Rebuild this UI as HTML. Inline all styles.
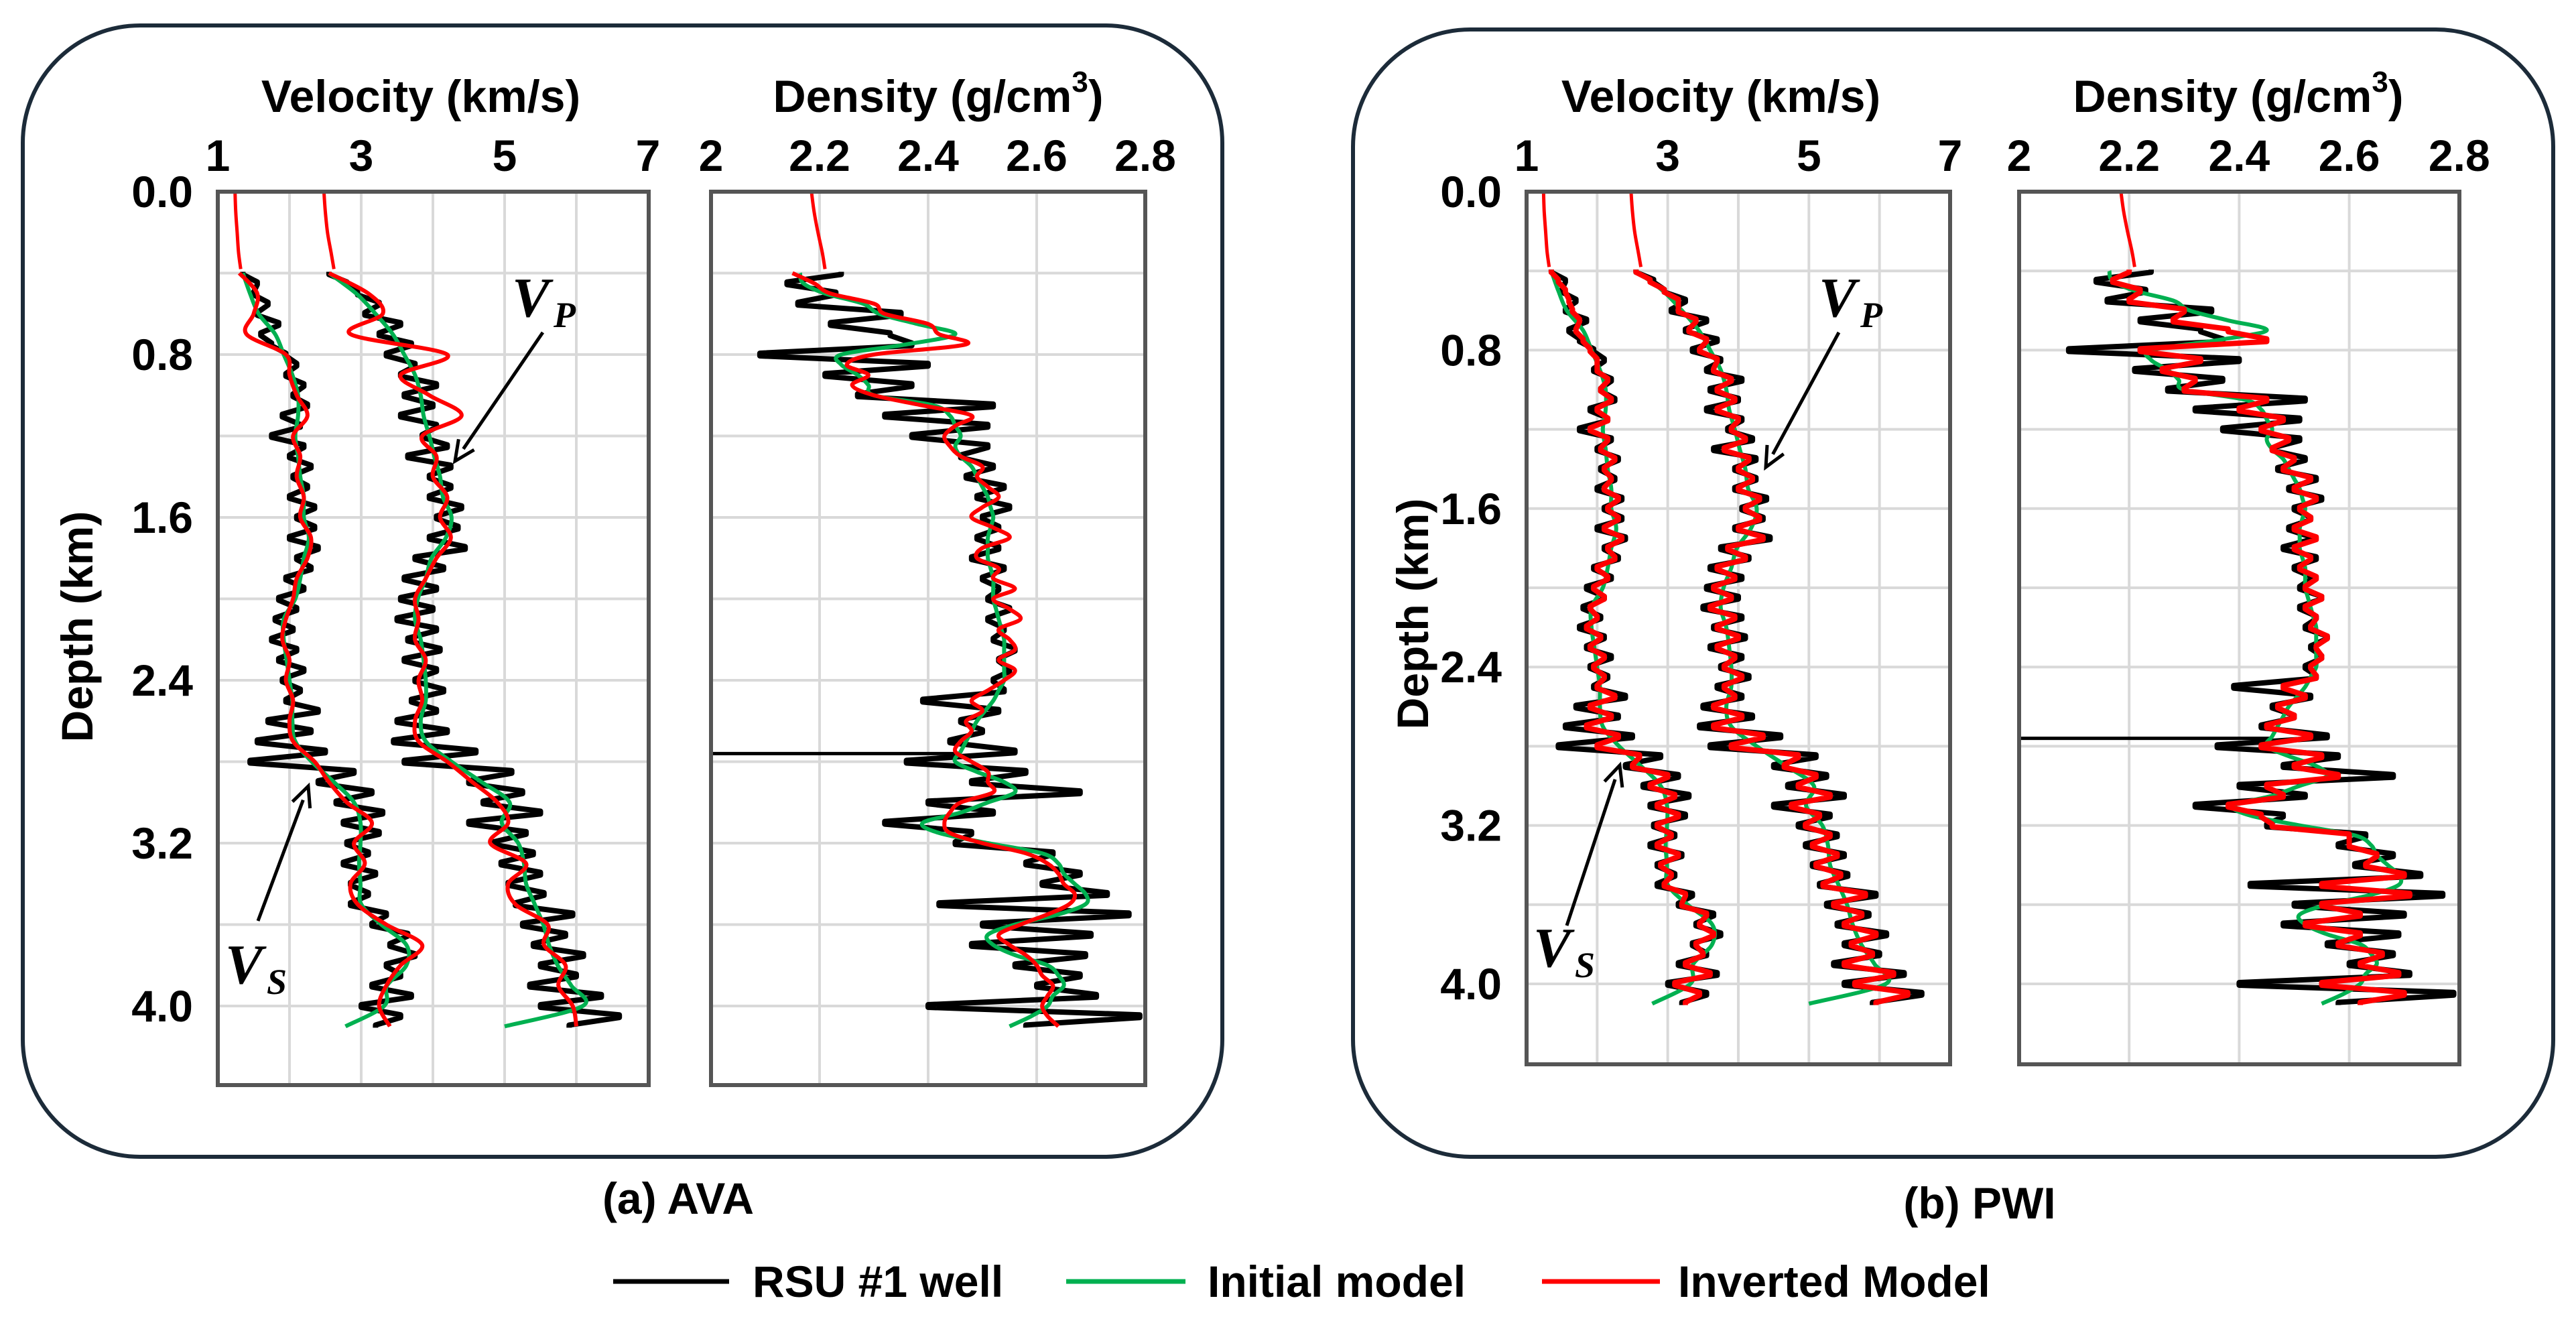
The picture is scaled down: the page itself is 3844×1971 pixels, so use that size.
<!DOCTYPE html>
<html><head><meta charset="utf-8"><style>
html,body{margin:0;padding:0;background:#fff;}
svg{display:block;}
text{font-family:"Liberation Sans",Arial,sans-serif;font-weight:bold;fill:#000;}
.it{font-family:"Liberation Serif",serif;font-style:italic;font-weight:bold;}
</style></head><body>
<svg id="fig" width="3844" height="1971" viewBox="0 0 3844 1971" xmlns="http://www.w3.org/2000/svg"></svg>
<script>
// ---------- data ----------
const shallowDepths = [0, 0.1, 0.2, 0.3, 0.38];
const vsShallow = [1.24, 1.25, 1.27, 1.29, 1.32];
const vpShallow = [2.48, 2.50, 2.53, 2.58, 2.62];
const rhoShallow = [2.185, 2.19, 2.197, 2.205, 2.21];

const vsInit = [1.35,1.45,1.57,1.8,1.92,2.04,2.12,2.12,2.08,2.12,2.15,2.2,2.2,2.27,2.2,2.15,2.08,1.92,1.92,1.96,2.0,2.04,2.04,2.08,2.31,2.62,2.9,2.99,2.99,2.97,2.99,3.0,3.28,3.63,3.63,3.36,3.32,2.78];
const vpInit = [2.55,2.93,3.2,3.44,3.6,3.75,3.83,3.87,3.95,4.02,4.1,4.14,4.26,4.18,3.98,3.9,3.79,3.75,3.83,3.87,3.9,3.9,3.83,3.9,4.26,4.68,5.07,4.96,5.19,5.27,5.3,5.42,5.54,5.62,5.74,5.93,6.09,5.0];
const vsInvA = [1.30,1.55,1.50,1.40,1.95,2.0,2.10,2.25,2.05,2.15,2.10,2.20,2.15,2.30,2.25,2.10,2.05,1.95,1.90,2.00,1.95,2.05,2.0,2.05,2.35,2.55,2.80,3.15,2.90,3.05,2.85,2.95,3.35,3.85,3.55,3.35,3.25,3.40];
const vpInvA = [2.55,3.10,3.30,2.85,4.20,3.55,3.95,4.40,3.85,4.05,4.0,4.20,4.10,4.25,4.05,3.90,3.75,3.80,3.75,3.90,3.80,3.85,3.75,3.80,4.20,4.55,4.90,5.05,4.80,5.30,5.05,5.15,5.60,5.55,5.85,5.75,5.95,6.00];

const vsWell = [1.35,1.55,1.50,1.70,1.55,1.85,1.60,1.75,1.95,2.10,1.95,2.20,2.05,2.25,1.90,2.15,1.75,2.20,2.00,2.30,2.05,2.25,2.00,2.35,2.10,2.35,2.00,2.40,2.10,2.30,1.95,2.20,1.85,2.10,1.80,2.05,1.75,2.10,1.85,2.20,1.90,2.15,1.95,2.40,1.70,2.30,1.55,2.50,1.45,2.90,2.40,3.15,2.65,3.30,2.75,3.25,2.80,3.10,2.75,3.20,2.85,3.10,2.85,3.35,3.15,3.65,3.40,3.75,3.35,3.55,3.15,3.70,3.00,3.55,3.20];
const vpWell = [2.55,2.80,2.95,3.25,3.05,3.55,3.25,3.70,3.35,3.75,3.55,4.05,3.60,4.00,3.55,4.05,3.85,4.20,3.65,4.25,3.95,4.25,3.95,4.40,4.05,4.35,3.95,4.45,3.75,4.15,3.60,4.05,3.55,4.00,3.50,4.05,3.65,4.10,3.60,4.05,3.75,4.15,3.70,4.05,3.50,4.20,3.45,4.60,3.60,5.10,4.50,5.25,4.70,5.50,4.50,5.30,4.85,5.40,4.95,5.50,5.05,5.55,5.15,5.95,5.25,5.85,5.40,6.10,5.50,6.00,5.35,6.35,5.50,6.60,5.90];
const rhoWell = [2.24,2.14,2.23,2.16,2.35,2.22,2.33,2.37,2.09,2.40,2.21,2.37,2.27,2.52,2.32,2.51,2.37,2.51,2.46,2.52,2.47,2.54,2.49,2.55,2.50,2.53,2.49,2.53,2.48,2.54,2.50,2.53,2.51,2.55,2.51,2.54,2.52,2.56,2.53,2.55,2.52,2.54,2.39,2.53,2.46,2.50,2.44,2.56,2.36,2.58,2.48,2.68,2.40,2.52,2.32,2.48,2.45,2.63,2.58,2.68,2.61,2.73,2.42,2.77,2.50,2.70,2.48,2.69,2.56,2.68,2.60,2.71,2.40,2.79,2.58];
const rhoGlitchDepth = [2.76];
const rhoGlitchValue = [2.0];

const rhoInit = [2.164,2.17,2.21,2.28,2.31,2.38,2.45,2.36,2.24,2.24,2.27,2.29,2.30,2.41,2.44,2.45,2.46,2.45,2.46,2.48,2.49,2.50,2.51,2.515,2.52,2.515,2.51,2.51,2.51,2.515,2.52,2.52,2.52,2.525,2.53,2.535,2.54,2.54,2.54,2.54,2.54,2.53,2.52,2.505,2.49,2.48,2.47,2.46,2.45,2.49,2.54,2.56,2.51,2.46,2.39,2.42,2.51,2.61,2.64,2.65,2.67,2.69,2.69,2.64,2.56,2.51,2.52,2.56,2.62,2.64,2.65,2.63,2.62,2.59,2.55];
const rhoInvA = [2.15,2.19,2.22,2.30,2.32,2.40,2.42,2.47,2.30,2.25,2.29,2.26,2.30,2.39,2.48,2.45,2.43,2.44,2.46,2.50,2.49,2.51,2.53,2.50,2.48,2.52,2.55,2.50,2.49,2.53,2.52,2.56,2.52,2.55,2.57,2.53,2.55,2.56,2.53,2.56,2.54,2.51,2.48,2.50,2.47,2.48,2.46,2.45,2.48,2.51,2.51,2.52,2.46,2.44,2.43,2.44,2.50,2.58,2.62,2.64,2.65,2.67,2.66,2.62,2.57,2.53,2.55,2.58,2.60,2.61,2.63,2.62,2.61,2.62,2.64];

const vsInvB = [1.35,1.45,1.55,1.60,1.65,1.75,1.70,1.80,1.90,2.00,2.00,2.15,2.05,2.20,2.00,2.15,1.90,2.15,2.05,2.25,2.10,2.20,2.10,2.30,2.15,2.30,2.10,2.35,2.15,2.25,2.00,2.15,1.95,2.10,1.90,2.00,1.85,2.05,1.90,2.10,1.95,2.10,2.00,2.25,1.90,2.20,1.85,2.30,2.00,2.60,2.50,3.00,2.75,3.10,2.85,3.15,2.85,3.05,2.85,3.15,2.90,3.05,2.95,3.25,3.20,3.55,3.45,3.65,3.40,3.50,3.25,3.60,3.10,3.45,3.25];
const vpInvB = [2.55,2.75,2.95,3.15,3.15,3.40,3.30,3.55,3.45,3.70,3.65,3.90,3.70,3.95,3.70,4.00,3.90,4.10,3.80,4.15,4.00,4.20,4.00,4.30,4.10,4.30,4.00,4.35,3.85,4.10,3.70,3.95,3.65,3.90,3.60,3.95,3.70,4.00,3.70,3.95,3.80,4.05,3.80,3.95,3.65,4.05,3.65,4.35,3.90,4.85,4.65,5.10,4.85,5.30,4.75,5.15,4.95,5.30,5.05,5.40,5.10,5.45,5.20,5.80,5.35,5.75,5.50,5.95,5.60,5.90,5.50,6.20,5.65,6.40,5.95];
const rhoInvB = [2.20,2.17,2.22,2.20,2.30,2.28,2.38,2.45,2.22,2.33,2.26,2.32,2.30,2.45,2.40,2.48,2.44,2.49,2.46,2.50,2.48,2.53,2.50,2.54,2.51,2.53,2.50,2.54,2.50,2.53,2.51,2.54,2.52,2.55,2.52,2.54,2.53,2.56,2.54,2.55,2.53,2.54,2.48,2.52,2.47,2.50,2.45,2.53,2.44,2.55,2.50,2.58,2.45,2.48,2.38,2.44,2.46,2.60,2.60,2.65,2.63,2.70,2.55,2.71,2.55,2.62,2.52,2.62,2.58,2.66,2.62,2.69,2.55,2.70,2.62];

const velTicks = [1, 3, 5, 7];
const velGrid = [2, 3, 4, 5, 6];
const rhoTicks = ["2", "2.2", "2.4", "2.6", "2.8"];
const rhoGrid = [2.2, 2.4, 2.6];
const depthTicks = ["0.0", "0.8", "1.6", "2.4", "3.2", "4.0"];
const depthGrid = [0.4, 0.8, 1.2, 1.6, 2.0, 2.4, 2.8, 3.2, 3.6, 4.0];

const trendDepths = vsInit.map((_, i) => 0.4 + i * 0.1);
const logDepths = vsWell.map((_, i) => 0.4 + i * 0.05);

// ---------- drawing ----------
const NS = "http://www.w3.org/2000/svg";
const svg = document.getElementById("fig");
function mk(tag, attrs, parent) {
  const e = document.createElementNS(NS, tag);
  for (const k in attrs) e.setAttribute(k, attrs[k]);
  (parent || svg).appendChild(e);
  return e;
}
function txt(s, x, y, size, anchor, parent) {
  const t = mk("text", {x: x, y: y, "font-size": size, "text-anchor": anchor || "middle", "dominant-baseline": "central"}, parent);
  t.textContent = s;
  return t;
}
function smoothPath(pts) {
  let d = "M" + pts[0][0].toFixed(1) + "," + pts[0][1].toFixed(1);
  for (let i = 0; i < pts.length - 1; i++) {
    const p0 = pts[Math.max(i - 1, 0)], p1 = pts[i], p2 = pts[i + 1], p3 = pts[Math.min(i + 2, pts.length - 1)];
    const c1 = [p1[0] + (p2[0] - p0[0]) / 6, p1[1] + (p2[1] - p0[1]) / 6];
    const c2 = [p2[0] - (p3[0] - p1[0]) / 6, p2[1] - (p3[1] - p1[1]) / 6];
    d += " C" + c1[0].toFixed(1) + "," + c1[1].toFixed(1) + " " + c2[0].toFixed(1) + "," + c2[1].toFixed(1) + " " + p2[0].toFixed(1) + "," + p2[1].toFixed(1);
  }
  return d;
}
function logPath(pts) {
  let d = "";
  pts.forEach((p, i) => {
    d += (i ? " L" : "M") + p[0].toFixed(1) + "," + (p[1] - 2).toFixed(1) + " L" + p[0].toFixed(1) + "," + (p[1] + 2).toFixed(1);
  });
  return d;
}

function panel(cfg) {
  const g = mk("g", {});
  
  
  const box = mk("rect", {x: cfg.box[0], y: cfg.box[1], width: cfg.box[2], height: cfg.box[3], rx: 175, ry: 175, fill: "none", stroke: "#1c2b39", "stroke-width": 6}, g);
  
  

  const yOf = d => cfg.y0 + d * cfg.ky;
  const vx = v => cfg.vx0 + (v - 1) * cfg.vk;
  const rx = r => cfg.rx0 + (r - 2) * cfg.rk;

  [[cfg.vx0, cfg.vx1, "velocity"], [cfg.rx0, cfg.rx1, "density"]].forEach(([x0, x1, nm]) => {
    const fg = mk("g", {}, g);
    
    
    depthGrid.forEach(d => {
      const l = mk("line", {x1: x0, x2: x1, y1: yOf(d), y2: yOf(d), stroke: "#d9d9d9", "stroke-width": 4}, fg);
      
      
    });
    (nm === "velocity" ? velGrid.map(vx) : rhoGrid.map(rx)).forEach(x => {
      const l = mk("line", {x1: x, x2: x, y1: cfg.y0, y2: cfg.yb, stroke: "#d9d9d9", "stroke-width": 4}, fg);
      
      
    });
  });

  const redW = cfg.noisy ? 8 : 6;
  const vg = mk("g", {fill: "none", "stroke-linejoin": "round"}, g);
  
  
  [[vsWell, "vs-well-log"], [vpWell, "vp-well-log"]].forEach(([arr, nm]) => {
    const p = mk("path", {d: logPath(arr.map((v, i) => [vx(v), yOf(logDepths[i])])), stroke: "#000", "stroke-width": 8}, vg);
    
    
  });
  [[vsInit, "vs-initial-model"], [vpInit, "vp-initial-model"]].forEach(([arr, nm]) => {
    const p = mk("path", {d: smoothPath(arr.map((v, i) => [vx(v), yOf(trendDepths[i])])), stroke: "#00b050", "stroke-width": 6}, vg);
    
    
  });
  [[vsShallow, "vs-shallow"], [vpShallow, "vp-shallow"]].forEach(([arr, nm]) => {
    const p = mk("path", {d: smoothPath(arr.map((v, i) => [vx(v), yOf(shallowDepths[i])])), stroke: "#ff0000", "stroke-width": 5}, vg);
    
    
  });
  [[cfg.vsInv, "vs-inverted-model"], [cfg.vpInv, "vp-inverted-model"]].forEach(([arr, nm]) => {
    const dep = arr.length === trendDepths.length ? trendDepths : logDepths;
    const pts = arr.map((v, i) => [vx(v), yOf(dep[i])]);
    const p = mk("path", {d: cfg.noisy ? logPath(pts) : smoothPath(pts), stroke: "#ff0000", "stroke-width": redW}, vg);
    
    
  });

  const dg = mk("g", {fill: "none", "stroke-linejoin": "round"}, g);
  
  
  const wp = mk("path", {d: logPath(rhoWell.map((v, i) => [rx(v), yOf(logDepths[i])])), stroke: "#000", "stroke-width": 8}, dg);
  
  
  rhoGlitchDepth.forEach((d, i) => {
    const l = mk("line", {x1: rx(rhoGlitchValue[i]), x2: rx(2.46), y1: yOf(d), y2: yOf(d), stroke: "#000", "stroke-width": 5}, dg);
    
    
  });
  const ip = mk("path", {d: smoothPath(rhoInit.map((v, i) => [rx(v), yOf(logDepths[i])])), stroke: "#00b050", "stroke-width": 6}, dg);
  
  
  const sp = mk("path", {d: smoothPath(rhoShallow.map((v, i) => [rx(v), yOf(shallowDepths[i])])), stroke: "#ff0000", "stroke-width": 5}, dg);
  
  
  const rpts = cfg.rhoInv.map((v, i) => [rx(v), yOf(logDepths[i])]);
  const rp = mk("path", {d: cfg.noisy ? logPath(rpts) : smoothPath(rpts), stroke: "#ff0000", "stroke-width": redW}, dg);
  
  

  [[cfg.vx0, cfg.vx1], [cfg.rx0, cfg.rx1]].forEach(([x0, x1], k) => {
    const f = mk("rect", {x: x0, y: cfg.y0, width: x1 - x0, height: cfg.yb - cfg.y0, fill: "none", stroke: "#555", "stroke-width": 6}, g);
    
    
  });

  velTicks.forEach(v => {
    const t = txt(String(v), vx(v), 232, 66, "middle", g);
    
    
  });
  rhoTicks.forEach(s => {
    const t = txt(s, rx(parseFloat(s)), 232, 66, "middle", g);
    
    
  });
  depthTicks.forEach(s => {
    const t = txt(s, cfg.vx0 - 37, yOf(parseFloat(s)), 66, "end", g);
    
    
  });
  let t = txt("Velocity (km/s)", cfg.vtitle, 144, 68, "middle", g);
  
  
  t = txt("", cfg.rtitle, 144, 68, "middle", g);
  t.textContent = "Density (g/cm";
  const sup = mk("tspan", {"font-size": 44, dy: -22}, t); sup.textContent = "3";
  const cl = mk("tspan", {dy: 22}, t); cl.textContent = ")";
  
  
  t = mk("text", {x: 0, y: 0, "font-size": 66, "text-anchor": "middle", "dominant-baseline": "central", transform: "translate(" + cfg.dtitle[0] + "," + cfg.dtitle[1] + ") rotate(-90)"}, g);
  t.textContent = "Depth (km)";
  
  
  t = txt(cfg.caption, cfg.cap[0], cfg.cap[1], 66, "middle", g);
  
  

  [[cfg.vpArrow, cfg.vpLab, "P", "vp"], [cfg.vsArrow, cfg.vsLab, "S", "vs"]].forEach(([a, l, sub, nm]) => {
    const ag = mk("g", {}, g);
    
    
    const ang = Math.atan2(a[3] - a[1], a[2] - a[0]);
    const hx = a[2] - 22 * Math.cos(ang), hy = a[3] - 22 * Math.sin(ang);
    mk("line", {x1: a[0], y1: a[1], x2: hx, y2: hy, stroke: "#000", "stroke-width": 5}, ag);
    const px = -Math.sin(ang), py = Math.cos(ang);
    const b1 = a[2] - 30 * Math.cos(ang), b2 = a[3] - 30 * Math.sin(ang);
    mk("path", {d: "M" + (b1 + 14 * px) + "," + (b2 + 14 * py) + " L" + a[2] + "," + a[3] + " L" + (b1 - 14 * px) + "," + (b2 - 14 * py), fill: "none", stroke: "#000", "stroke-width": 5}, ag);
    const tt = mk("text", {x: l[0], y: l[1], "font-size": 84, class: "it"}, ag);
    tt.textContent = "V";
    const ts = mk("tspan", {"font-size": 54, dy: 16, dx: 6}, tt);
    ts.textContent = sub;
  });
}

panel({name: "panel-a-ava", box: [34, 38, 1790, 1688], y0: 286, ky: 303.75, yb: 1619,
  vx0: 325, vx1: 968, vk: 107, rx0: 1061, rx1: 1709, rk: 810,
  vsInv: vsInvA, vpInv: vpInvA, rhoInv: rhoInvA, noisy: false,
  vtitle: 628, rtitle: 1400, dtitle: [115, 935], caption: "(a) AVA", cap: [1012, 1788],
  vpArrow: [810, 496, 679, 688], vpLab: [764, 472], vsArrow: [385, 1374, 460, 1173], vsLab: [336, 1467]});
panel({name: "panel-b-pwi", box: [2019, 44, 1791, 1682], y0: 286, ky: 295.5, yb: 1588,
  vx0: 2278, vx1: 2910, vk: 105.33, rx0: 3013, rx1: 3670, rk: 821,
  vsInv: vsInvB, vpInv: vpInvB, rhoInv: rhoInvB, noisy: true,
  vtitle: 2568, rtitle: 3340, dtitle: [2108, 916], caption: "(b) PWI", cap: [2954, 1795],
  vpArrow: [2744, 496, 2635, 697], vpLab: [2714, 472], vsArrow: [2338, 1381, 2417, 1142], vsLab: [2288, 1442]});

const lg = mk("g", {});


const legendLabels = ["RSU #1 well", "Initial model", "Inverted Model"];
const legendColors = ["#000", "#00b050", "#ff0000"];
const legendX = [[915, 1088, 1123], [1591, 1769, 1802], [2301, 2477, 2504]];
legendLabels.forEach((s, i) => {
  const e = mk("g", {}, lg);
  
  
  mk("line", {x1: legendX[i][0], x2: legendX[i][1], y1: 1912, y2: 1912, stroke: legendColors[i], "stroke-width": 7}, e);
  txt(s, legendX[i][2], 1912, 66, "start", e);
});
</script>
</body></html>
